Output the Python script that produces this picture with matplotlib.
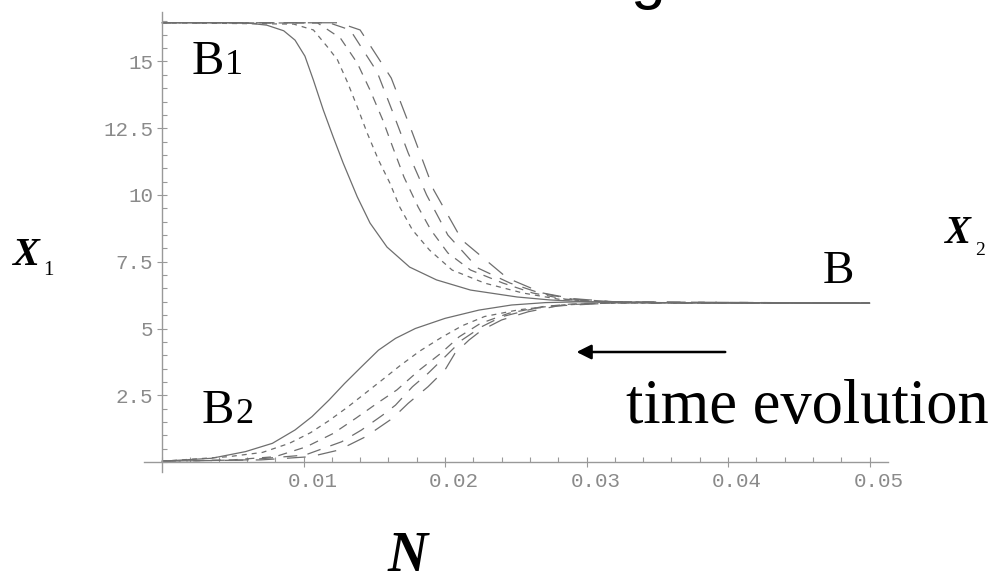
import matplotlib
matplotlib.use("Agg")
import matplotlib.pyplot as plt
import matplotlib.transforms as mtransforms
from matplotlib.ticker import FixedLocator, MultipleLocator

plt.rcParams['lines.scale_dashes'] = False

# upper branch (B1 -> B), solid first, then longer and longer dashes
n_up1 = [0.0, 0.0048, 0.0062, 0.0074, 0.0086, 0.0094, 0.0101, 0.0107, 0.0114, 0.0121, 0.0128,
         0.0138, 0.0147, 0.0159, 0.0175, 0.0194, 0.0218, 0.0251, 0.0274, 0.030, 0.035, 0.05]
x_up1 = [16.45, 16.45, 16.43, 16.36, 16.15, 15.8, 15.2, 14.3, 13.18, 12.17, 11.2,
         9.93, 8.95, 8.05, 7.3, 6.82, 6.44, 6.18, 6.07, 6.0, 5.97, 5.95]
n_up2 = [0.0, 0.0093, 0.0107, 0.0117, 0.0124, 0.0131, 0.0138, 0.0145, 0.0153, 0.0161, 0.0168,
         0.0177, 0.0189, 0.0205, 0.0228, 0.0255, 0.028, 0.031, 0.035, 0.05]
x_up2 = [16.45, 16.40, 16.18, 15.54, 15.06, 14.23, 13.3, 12.32, 11.31, 10.45, 9.55,
         8.69, 7.94, 7.19, 6.7, 6.33, 6.1, 6.0, 5.97, 5.95]
n_up3 = [0.0, 0.0110, 0.0126, 0.0138, 0.0147, 0.0156, 0.0163, 0.0171, 0.0181, 0.0190,
         0.0202, 0.0218, 0.0241, 0.0262, 0.0285, 0.031, 0.035, 0.05]
x_up3 = [16.45, 16.44, 15.88, 14.94, 13.93, 12.81, 11.8, 10.67, 9.55, 8.69,
         7.83, 7.19, 6.7, 6.33, 6.1, 6.0, 5.97, 5.95]
n_up4 = [0.0, 0.0118, 0.0133, 0.0152, 0.0163, 0.0174, 0.0187, 0.0202, 0.0223, 0.0246,
         0.0267, 0.029, 0.032, 0.05]
x_up4 = [16.45, 16.45, 16.18, 14.61, 13.11, 11.57, 10.0, 8.5, 7.27, 6.7,
         6.33, 6.1, 6.0, 5.95]
n_up5 = [0.0, 0.0125, 0.0140, 0.0162, 0.0177, 0.0192, 0.0212, 0.0244, 0.0269, 0.029, 0.032, 0.05]
x_up5 = [16.45, 16.45, 16.18, 14.38, 12.32, 10.19, 8.31, 6.89, 6.33, 6.12, 6.0, 5.95]

# lower branch (B2 -> B)
n_lo1 = [0.0, 0.0035, 0.0059, 0.0078, 0.0094, 0.0106, 0.0118, 0.0129, 0.0141, 0.0153,
         0.0165, 0.0179, 0.0200, 0.0224, 0.0247, 0.0271, 0.0295, 0.035, 0.05]
x_lo1 = [0.03, 0.14, 0.39, 0.7, 1.2, 1.7, 2.32, 2.94, 3.57, 4.19,
         4.63, 5.0, 5.38, 5.69, 5.88, 5.97, 6.0, 5.97, 5.95]
n_lo2 = [0.0, 0.0047, 0.0071, 0.0090, 0.0105, 0.0118, 0.0131, 0.0143, 0.0155, 0.0168,
         0.0182, 0.0197, 0.0212, 0.0228, 0.0252, 0.028, 0.031, 0.035, 0.05]
x_lo2 = [0.03, 0.2, 0.36, 0.7, 1.1, 1.55, 2.05, 2.55, 3.05, 3.6,
         4.15, 4.65, 5.1, 5.45, 5.7, 5.87, 5.95, 5.96, 5.95]
n_lo3 = [0.0, 0.0050, 0.0080, 0.0102, 0.0121, 0.0137, 0.0152, 0.0166, 0.0182, 0.0197,
         0.0210, 0.0225, 0.0245, 0.0269, 0.029, 0.032, 0.05]
x_lo3 = [0.03, 0.08, 0.2, 0.57, 1.07, 1.64, 2.2, 2.7, 3.45, 4.07,
         4.69, 5.19, 5.57, 5.82, 5.92, 5.96, 5.95]
n_lo4 = [0.0, 0.0060, 0.0101, 0.0127, 0.0141, 0.0156, 0.0165, 0.0177, 0.0188, 0.0200,
         0.0212, 0.0226, 0.0240, 0.0264, 0.029, 0.032, 0.05]
x_lo4 = [0.03, 0.08, 0.26, 0.76, 1.2, 1.76, 2.13, 2.82, 3.32, 3.94,
         4.57, 5.07, 5.44, 5.76, 5.9, 5.96, 5.95]
n_lo5 = [0.0, 0.0070, 0.0105, 0.0125, 0.0144, 0.0163, 0.0174, 0.0188, 0.0200, 0.0207,
         0.0217, 0.0226, 0.0240, 0.0259, 0.028, 0.032, 0.05]
x_lo5 = [0.03, 0.08, 0.2, 0.45, 0.95, 1.64, 2.2, 2.82, 3.45, 4.07,
         4.57, 4.94, 5.32, 5.63, 5.85, 5.96, 5.95]

x_ticks = [0.01, 0.02, 0.03, 0.04, 0.05]
x_ticklabels = ['0.01', '0.02', '0.03', '0.04', '0.05']
y_ticks = [2.5, 5, 7.5, 10, 12.5, 15]
y_ticklabels = ['2.5', '5', '7.5', '10', '12.5', '15']

upper = [(n_up1, x_up1), (n_up2, x_up2), (n_up3, x_up3), (n_up4, x_up4), (n_up5, x_up5)]
lower = [(n_lo1, x_lo1), (n_lo2, x_lo2), (n_lo3, x_lo3), (n_lo4, x_lo4), (n_lo5, x_lo5)]
dash_list = [None, (3.6, 3.6), (6.5, 5.5), (10, 7.5), (13.5, 9)]

fig = plt.figure(figsize=(9.98, 5.75), dpi=100)
ax = fig.add_axes([0.1439, 0.1793, 0.7458, 0.7997])
ax.set_xlim(-0.0013, 0.0513)
ax.set_ylim(-0.37, 16.85)

lc = '#6e6e6e'
for branch in (upper, lower):
    for i, (nn, xx) in enumerate(branch):
        line, = ax.plot(nn, xx, color=lc, lw=0.9)
        if dash_list[i] is not None:
            line.set_dashes(dash_list[i])

# Mathematica-like crossing axes
for s in ['top', 'right']:
    ax.spines[s].set_visible(False)
ax.spines['left'].set_position(('data', 0))
ax.spines['bottom'].set_position(('data', 0))
for s in ['left', 'bottom']:
    ax.spines[s].set_color('#999999')
    ax.spines[s].set_linewidth(1.0)

ax.xaxis.set_major_locator(FixedLocator(x_ticks))
ax.set_xticklabels(x_ticklabels)
ax.xaxis.set_minor_locator(MultipleLocator(0.002))
ax.yaxis.set_major_locator(FixedLocator(y_ticks))
ax.set_yticklabels(y_ticklabels)
ax.yaxis.set_minor_locator(MultipleLocator(0.5))

ax.tick_params(which='major', direction='inout', length=7, width=0.8, color='#999999',
               labelsize=15, labelcolor='#8a8a8a', labelfontfamily='Liberation Mono')
ax.tick_params(which='minor', direction='in', length=3.5, width=0.8, color='#999999')
ax.tick_params(axis='x', which='major', pad=4)
ax.tick_params(axis='y', which='major', pad=3)

shift = mtransforms.ScaledTranslation(9 / 100, 0, fig.dpi_scale_trans)
for lab in ax.get_xticklabels():
    lab.set_transform(lab.get_transform() + shift)

serif = 'Liberation Serif'
# branch labels
ax.text(0.0021, 14.53, 'B', fontsize=35, family=serif, va='baseline')
ax.text(0.00445, 14.53, '1', fontsize=26, family=serif, va='baseline')
ax.text(0.0028, 1.46, 'B', fontsize=35, family=serif, va='baseline')
ax.text(0.00515, 1.46, '2', fontsize=26, family=serif, va='baseline')
ax.text(0.0467, 6.7, 'B', fontsize=34, family=serif, va='baseline')

ax.annotate('', xy=(0.0291, 4.12), xytext=(0.0400, 4.12),
            arrowprops=dict(arrowstyle='-|>', color='black', lw=1.8, mutation_scale=22))
ax.text(0.0328, 1.46, 'time evolution', fontsize=45, family=serif, va='baseline')

# axis names placed around the plot
fig.text(12 / 998, 1 - 265 / 575, 'X', fontsize=29, family=serif, weight='bold',
         style='italic', va='baseline')
fig.text(43 / 998, 1 - 275 / 575, '1', fontsize=15, family=serif, va='baseline')
fig.text(945 / 998, 1 - 243 / 575, 'X', fontsize=28, family=serif, weight='bold',
         style='italic', va='baseline')
fig.text(975 / 998, 1 - 255 / 575, '2', fontsize=14, family=serif, va='baseline')
fig.text(388 / 998, 1 - 571 / 575, 'N', fontsize=40, family=serif, weight='bold',
         style='italic', va='baseline')

# piece of the cut-off heading above the chart
fig.text(630 / 998, 1 + 3 / 575, 'g', fontsize=45, family='Liberation Sans', va='baseline')

fig.savefig('out.png', dpi=100)
